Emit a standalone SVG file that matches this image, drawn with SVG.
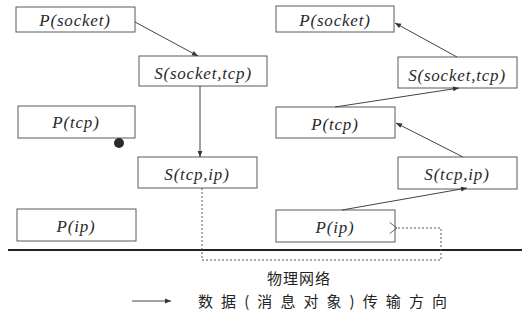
<svg xmlns="http://www.w3.org/2000/svg" width="522" height="325" viewBox="0 0 522 325">
  <style>
    .box { fill: #ffffff; stroke: #5a5a5a; stroke-width: 1; }
    .lbl { font-style: italic; font-size: 17px; fill: #2a2a2a; text-anchor: middle; letter-spacing: 0.8px; }
    .edge { fill: none; stroke: #444; stroke-width: 1; }
    .dot { fill: none; stroke: #555; stroke-width: 1; stroke-dasharray: 2 2; }
    .cjk { font-size: 15px; fill: #222; }
  </style>
  <defs>
    <marker id="head" viewBox="0 0 10 10" refX="10" refY="5" markerWidth="7" markerHeight="6" orient="auto" markerUnits="userSpaceOnUse">
      <path d="M0,1 L10,5 L0,9 z" fill="#333"/>
    </marker>
    <marker id="open" viewBox="0 0 10 12" refX="1" refY="6" markerWidth="9" markerHeight="12" orient="auto" markerUnits="userSpaceOnUse">
      <path d="M9,0 L1,6 L9,12" fill="none" stroke="#555" stroke-width="1"/>
    </marker>
  </defs>
  <rect width="522" height="325" fill="#ffffff"/>

  <g font-family="'Liberation Serif', 'Times New Roman', serif">
    <!-- sender stack -->
    <g id="l-p-socket"><rect class="box" x="16" y="7" width="119" height="25"/><text class="lbl" x="75" y="26">P(socket)</text></g>
    <g id="l-s-socket-tcp"><rect class="box" x="139" y="56" width="128" height="30"/><text class="lbl" x="203" y="79">S(socket,tcp)</text></g>
    <g id="l-p-tcp"><rect class="box" x="18" y="106" width="117" height="32"/><text class="lbl" x="76" y="128">P(tcp)</text></g>
    <g id="l-s-tcp-ip"><rect class="box" x="138" y="157" width="119" height="31"/><text class="lbl" x="197" y="180">S(tcp,ip)</text></g>
    <g id="l-p-ip"><rect class="box" x="17" y="209" width="119" height="32"/><text class="lbl" x="76" y="232">P(ip)</text></g>

    <!-- receiver stack -->
    <g id="r-p-socket"><rect class="box" x="276" y="6" width="118" height="26"/><text class="lbl" x="335" y="26">P(socket)</text></g>
    <g id="r-s-socket-tcp"><rect class="box" x="398" y="57" width="119" height="31"/><text class="lbl" x="457" y="81">S(socket,tcp)</text></g>
    <g id="r-p-tcp"><rect class="box" x="276" y="107" width="119" height="31"/><text class="lbl" x="335" y="130">P(tcp)</text></g>
    <g id="r-s-tcp-ip"><rect class="box" x="398" y="157" width="119" height="32"/><text class="lbl" x="457" y="180">S(tcp,ip)</text></g>
    <g id="r-p-ip"><rect class="box" x="276" y="210" width="119" height="32"/><text class="lbl" x="335" y="233">P(ip)</text></g>
  </g>

  <!-- marker dot -->
  <circle cx="119" cy="143" r="5" fill="#2a2a2a"/>

  <!-- physical network -->
  <line x1="8" y1="250" x2="522" y2="250" stroke="#222" stroke-width="2"/>

  <g id="connectors">
    <line class="edge" x1="135" y1="22" x2="198" y2="56" marker-end="url(#head)"/>
    <line class="edge" x1="200" y1="86" x2="200" y2="157" marker-end="url(#head)"/>
    <path class="dot" d="M202,188 V260 H441 V228 H397" marker-end="url(#open)"/>
    <line class="edge" x1="342" y1="210" x2="467" y2="188" marker-end="url(#head)"/>
    <line class="edge" x1="463" y1="157" x2="396" y2="123" marker-end="url(#head)"/>
    <line class="edge" x1="335" y1="107" x2="459" y2="88" marker-end="url(#head)"/>
    <line class="edge" x1="457" y1="57" x2="395" y2="23" marker-end="url(#head)"/>
    <!-- legend arrow -->
    <line class="edge" x1="132" y1="301" x2="171" y2="301" marker-end="url(#head)"/>
  </g>

  <g font-family="'Noto Sans CJK SC', 'Noto Sans', sans-serif">
    <text class="cjk" x="267" y="284" textLength="63" lengthAdjust="spacing">物理网络</text>
    <text class="cjk" x="198" y="307" textLength="249" lengthAdjust="spacing">数据(消息对象)传输方向</text>
  </g>
</svg>
